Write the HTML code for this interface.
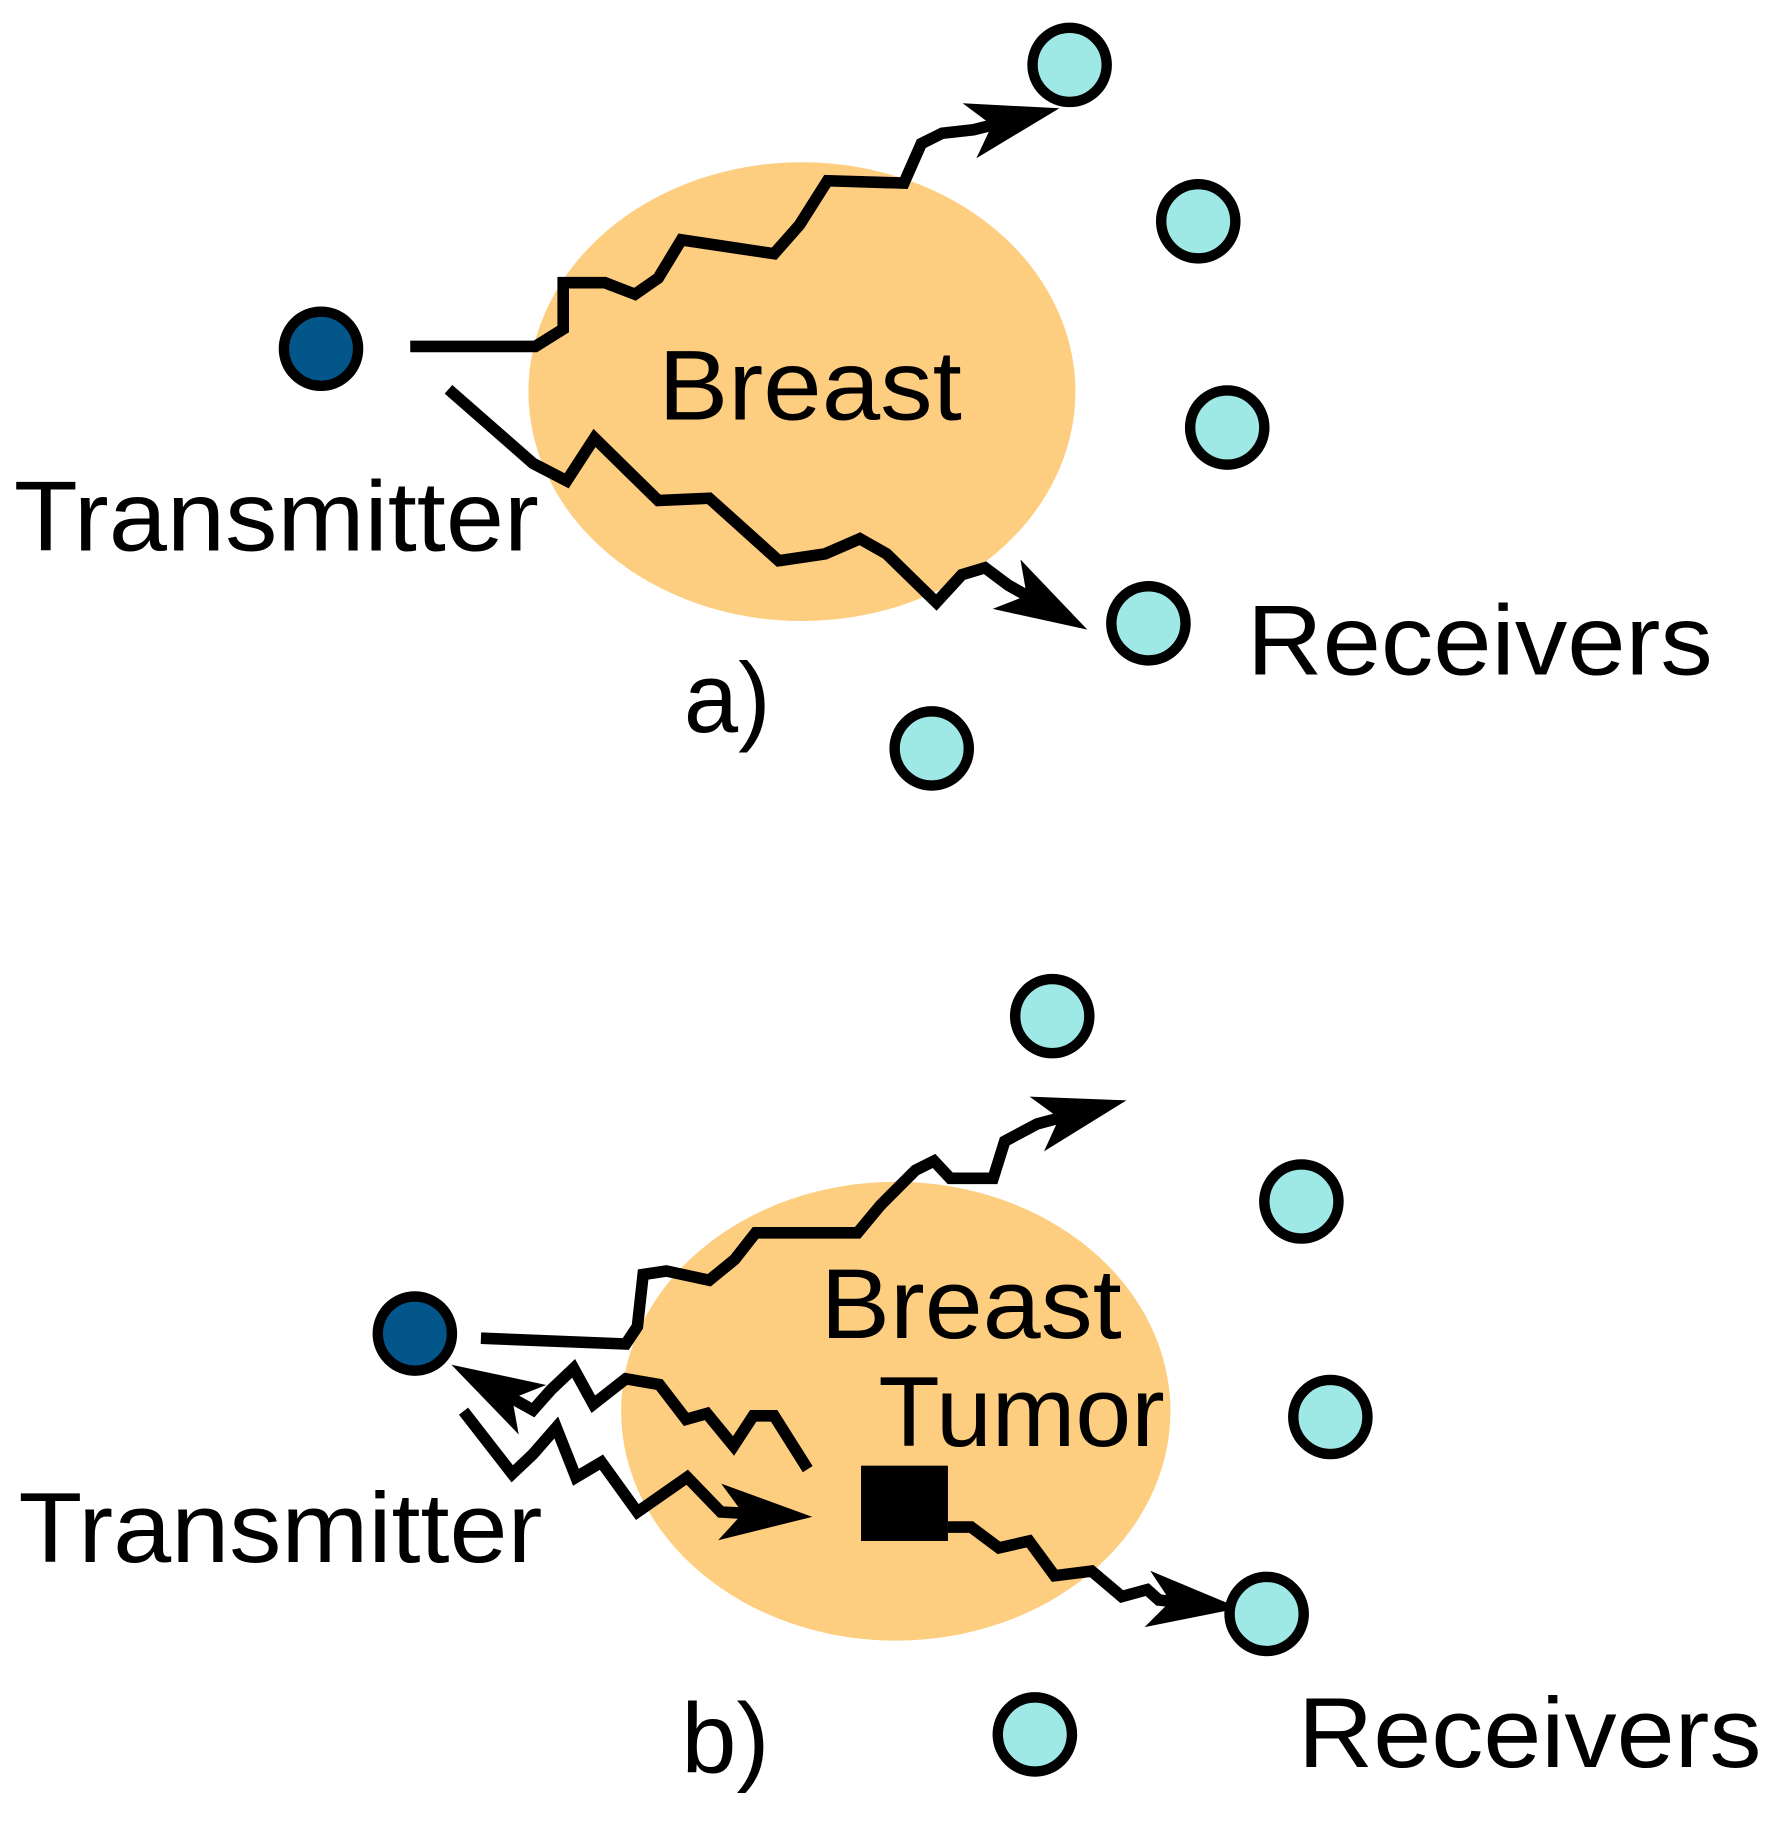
<!DOCTYPE html>
<html><head><style>html,body{margin:0;padding:0;background:#fff}svg{display:block}</style></head>
<body>
<svg width="1780" height="1826" viewBox="0 0 1536 1576" preserveAspectRatio="none" xmlns="http://www.w3.org/2000/svg">
<defs>
<marker id="ah" markerUnits="userSpaceOnUse" markerWidth="100" markerHeight="100" viewBox="-80 -40 90 80" refX="-54" refY="0" orient="auto">
<path d="M0,0 L-72,-22 L-54,0 L-72,22 Z" fill="#000"/>
</marker>
</defs>
<ellipse cx="692" cy="338" rx="236" ry="198" fill="#FDCD80"/>
<ellipse cx="773" cy="1218" rx="237" ry="198" fill="#FDCD80"/>
<g fill="none" stroke="#000" stroke-width="10" stroke-linejoin="miter">
<path d="M354,299 L462,299 L486,284 L486,244 L522,244 L548,254 L568,240 L588,207 L668,219 L690,194 L714,156 L780,158 L795,124 L813,115 L840,112 L856,108" marker-end="url(#ah)"/>
<path d="M387,336 L460,400 L489,415 L513,378 L568,432 L612,430 L672,484 L712,478 L742,465 L765,478 L808,520 L830,496 L850,490 L870,505 L886,514" marker-end="url(#ah)"/>
<path d="M415,1155 L540,1160 L550,1145 L555,1100 L575,1097 L612,1105 L634,1087 L652,1064 L740,1064 L760,1040 L790,1010 L806,1002 L820,1017 L857,1017 L867,985 L895,970 L914,965" marker-end="url(#ah)"/>
<path d="M697,1268 L668,1222 L650,1222 L633,1248 L610,1220 L592,1225 L569,1195 L540,1190 L512,1212 L495,1181 L475,1200 L460,1217 L442,1207" marker-end="url(#ah)"/>
<path d="M400,1218 L442,1272 L460,1255 L480,1232 L497,1275 L519,1262 L550,1305 L593,1275 L622,1305 L641,1306" marker-end="url(#ah)"/>
<path d="M818,1318 L838,1318 L862,1336 L888,1330 L910,1360 L942,1356 L968,1378 L990,1372 L1000,1381 L1010,1382" marker-end="url(#ah)"/>
</g>
<rect x="743" y="1265" width="75" height="65" fill="#000"/>
<g stroke="#000" stroke-width="9">
<circle cx="277" cy="301" r="32" fill="#02568a"/>
<circle cx="358" cy="1151" r="32" fill="#02568a"/>
<g fill="#9ee8e6">
<circle cx="923" cy="56" r="32"/><circle cx="1034" cy="191" r="32"/><circle cx="1059" cy="369" r="32"/><circle cx="991" cy="538" r="32"/><circle cx="804" cy="646" r="32"/>
<circle cx="908" cy="877" r="32"/><circle cx="1123" cy="1037" r="32"/><circle cx="1148" cy="1223" r="32"/><circle cx="1093" cy="1393" r="32"/><circle cx="893" cy="1497" r="32"/>
</g></g>
<g font-family="Liberation Sans, sans-serif" font-size="86" fill="#000">
<text x="568" y="362" textLength="262" lengthAdjust="spacingAndGlyphs">Breast</text>
<text x="12" y="475" textLength="453" lengthAdjust="spacingAndGlyphs">Transmitter</text>
<text x="1076" y="582" textLength="402" lengthAdjust="spacingAndGlyphs">Receivers</text>
<text x="590" y="632" textLength="75" lengthAdjust="spacingAndGlyphs">a)</text>
<text x="708" y="1155" textLength="260" lengthAdjust="spacingAndGlyphs">Breast</text>
<text x="758" y="1248" textLength="247" lengthAdjust="spacingAndGlyphs">Tumor</text>
<text x="16" y="1348" textLength="452" lengthAdjust="spacingAndGlyphs">Transmitter</text>
<text x="1120" y="1525" textLength="400" lengthAdjust="spacingAndGlyphs">Receivers</text>
<text x="588" y="1530" textLength="76" lengthAdjust="spacingAndGlyphs">b)</text>
</g>
</svg>
</body></html>
